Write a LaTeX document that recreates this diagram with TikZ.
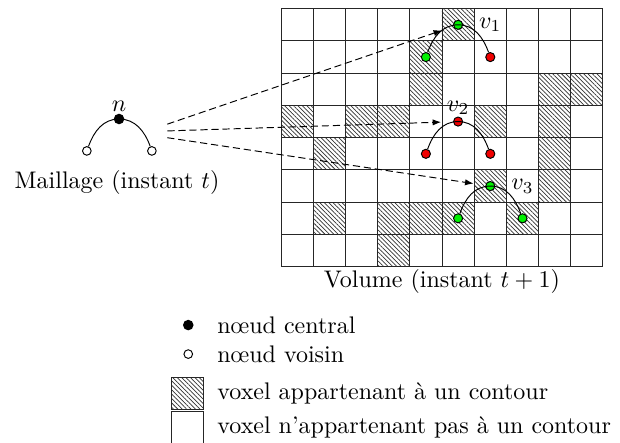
\documentclass[tikz,border=0pt]{standalone}
\usepackage{tikz}
\usetikzlibrary{arrows.meta,positioning,patterns.meta}
\definecolor{voxvert}{HTML}{00F000}
\definecolor{voxrouge}{HTML}{F00000}

\begin{document}
\begin{tikzpicture}[
  x=13.42pt, y=13.44pt,
  cellule/.style={draw=black!85, line width=0.4pt},
  contour/.style={pattern={Lines[angle=-45, distance=1.3pt, line width=0.3pt]}, pattern color=black!80},
  central/.style={circle, fill=black, inner sep=0pt, minimum size=4.4pt},
  voisin/.style={circle, draw, fill=white, inner sep=0pt, minimum size=3.6pt},
  vox/.style={circle, draw, inner sep=0pt, minimum size=3.8pt},
  lien/.style={line width=0.4pt},
  proj/.style={dash pattern=on 3pt off 1.6pt, -{Latex[length=3.5pt, width=2.6pt]}, shorten >=5pt},
  legbox/.style={draw=black!85, line width=0.4pt, minimum width=13.2pt, minimum height=13.4pt, inner sep=0pt}
]
\useasboundingbox (-8.727,-5.467) rectangle (10.528,8.270);

% volume : voxels de contour puis grille
\foreach \c/\r in {5/0,4/1,4/2,8/2,9/2,0/3,2/3,3/3,6/3,8/3,1/4,8/4,6/5,8/5,1/6,3/6,4/6,5/6,7/6,3/7}
  \fill[contour] (\c,7-\r) rectangle ++(1,1);
\draw[cellule, step=1] (0,0) grid (10,8);
\node (vlabel) at (5,-0.47) {Volume (instant $t+1$)};

% maillage
\node[central, label={[inner sep=0.5pt]above:$n$}] (mn) at (-5.03,4.58) {};
\node[voisin] (ml) at (-6.03,3.59) {};
\node[voisin] (mr) at (-4.01,3.59) {};
\draw[lien] (ml) to[out=70,in=180] (mn.center) to[out=0,in=110] (mr);
\node (mlabel) at (-5.09,2.6) {Maillage (instant $t$)};

% positions candidates
\node[vox, fill=voxvert, label={[label distance=3.1pt]right:$v_1$}] (v1) at (5.5,7.5) {};
\node[vox, fill=voxvert] (v1l) at (4.5,6.5) {};
\node[vox, fill=voxrouge] (v1r) at (6.5,6.5) {};
\node[vox, fill=voxrouge, label={[inner sep=0.5pt]above:$v_2$}] (v2) at (5.5,4.5) {};
\node[vox, fill=voxrouge] (v2l) at (4.5,3.5) {};
\node[vox, fill=voxrouge] (v2r) at (6.5,3.5) {};
\node[vox, fill=voxvert, label={[label distance=3.1pt]right:$v_3$}] (v3) at (6.5,2.5) {};
\node[vox, fill=voxvert] (v3l) at (5.5,1.5) {};
\node[vox, fill=voxvert] (v3r) at (7.5,1.5) {};
\draw[lien] (v1l) to[out=70,in=180] (v1.center) to[out=0,in=110] (v1r);
\draw[lien] (v2l) to[out=70,in=180] (v2.center) to[out=0,in=110] (v2r);
\draw[lien] (v3l) to[out=70,in=180] (v3.center) to[out=0,in=110] (v3r);

% projections
\coordinate (s1) at (-3.53,4.42);
\coordinate (s2) at (-3.53,4.21);
\coordinate (s3) at (-3.53,4.00);
\draw[proj] (s1) -- (v1);
\draw[proj] (s2) -- (v2);
\draw[proj] (s3) -- (v3);

% legende
\node[central] (lc) at (-2.88,-1.81) {};
\node[right=6.2pt of lc] (lctext) {nœud central};
\node[voisin] (lv) at (-2.88,-2.71) {};
\node[right=6.6pt of lv] (lvtext) {nœud voisin};
\node[legbox, contour] (lh) at (-2.9,-3.92) {};
\node[right=2.1pt of lh] (lhtext) {voxel appartenant à un contour};
\node[legbox] (lw) at (-2.9,-5.0) {};
\node[right=2.1pt of lw] (lwtext) {voxel n'appartenant pas à un contour};
\end{tikzpicture}
\end{document}
